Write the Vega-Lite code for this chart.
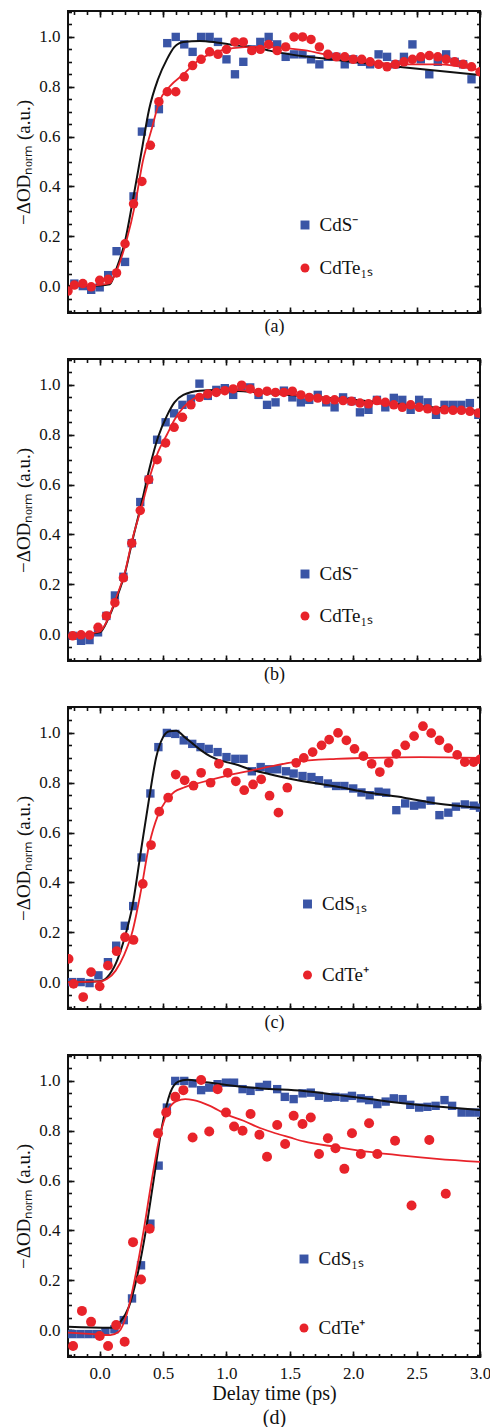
{
"$schema": "https://vega.github.io/schema/vega-lite/v6.json",
"autosize": {"type": "pad"},
"padding": {"left": 13, "top": 9, "right": 5, "bottom": 1},
"bounds": "flush",
"spacing": 46,
"resolve": {"scale": {"color": "independent", "shape": "independent"}, "legend": {"color": "independent", "shape": "independent"}},
"config": {
  "font": "Liberation Serif",
  "view": {"stroke": "#111111", "strokeWidth": 2},
  "axis": {"labelFont": "Liberation Serif", "titleFont": "Liberation Serif", "labelColor": "#111111", "titleColor": "#111111", "tickColor": "#111111", "titleFontWeight": "normal", "grid": false, "domain": false, "tickWidth": 1.6, "labelFlush": false, "labelOverlap": false},
  "legend": {"labelFont": "Liberation Serif", "labelFontSize": 19, "labelColor": "#111111", "symbolSize": 80, "symbolStrokeWidth": 0, "symbolOpacity": 1, "labelOffset": 5}
},
"datasets": {
  "a_pts": [
    {"series":"CdS⁻","t":-0.2,"v":0.01},{"series":"CdS⁻","t":-0.133,"v":0.0},{"series":"CdS⁻","t":-0.067,"v":-0.015},{"series":"CdS⁻","t":0.0,"v":-0.005},{"series":"CdS⁻","t":0.067,"v":0.044},{"series":"CdS⁻","t":0.133,"v":0.14},{"series":"CdS⁻","t":0.2,"v":0.097},{"series":"CdS⁻","t":0.267,"v":0.36},{"series":"CdS⁻","t":0.333,"v":0.62},{"series":"CdS⁻","t":0.4,"v":0.655},{"series":"CdS⁻","t":0.467,"v":0.71},{"series":"CdS⁻","t":0.533,"v":0.975},{"series":"CdS⁻","t":0.6,"v":1.0},{"series":"CdS⁻","t":0.667,"v":0.97},{"series":"CdS⁻","t":0.733,"v":0.94},{"series":"CdS⁻","t":0.8,"v":1.0},{"series":"CdS⁻","t":0.867,"v":1.0},{"series":"CdS⁻","t":0.933,"v":0.98},{"series":"CdS⁻","t":1.0,"v":0.91},{"series":"CdS⁻","t":1.067,"v":0.85},{"series":"CdS⁻","t":1.133,"v":0.9},{"series":"CdS⁻","t":1.2,"v":0.95},{"series":"CdS⁻","t":1.267,"v":0.98},{"series":"CdS⁻","t":1.333,"v":1.0},{"series":"CdS⁻","t":1.4,"v":0.97},{"series":"CdS⁻","t":1.467,"v":0.92},{"series":"CdS⁻","t":1.533,"v":0.93},{"series":"CdS⁻","t":1.6,"v":0.93},{"series":"CdS⁻","t":1.667,"v":0.91},{"series":"CdS⁻","t":1.733,"v":0.89},{"series":"CdS⁻","t":1.8,"v":0.92},{"series":"CdS⁻","t":1.867,"v":0.92},{"series":"CdS⁻","t":1.933,"v":0.89},{"series":"CdS⁻","t":2.0,"v":0.91},{"series":"CdS⁻","t":2.067,"v":0.9},{"series":"CdS⁻","t":2.133,"v":0.89},{"series":"CdS⁻","t":2.2,"v":0.93},{"series":"CdS⁻","t":2.267,"v":0.92},{"series":"CdS⁻","t":2.333,"v":0.89},{"series":"CdS⁻","t":2.4,"v":0.92},{"series":"CdS⁻","t":2.467,"v":0.97},{"series":"CdS⁻","t":2.533,"v":0.91},{"series":"CdS⁻","t":2.6,"v":0.85},{"series":"CdS⁻","t":2.667,"v":0.9},{"series":"CdS⁻","t":2.733,"v":0.93},{"series":"CdS⁻","t":2.8,"v":0.9},{"series":"CdS⁻","t":2.867,"v":0.89},{"series":"CdS⁻","t":2.933,"v":0.83},
    {"series":"CdTe₁ₛ","t":-0.25,"v":-0.02},{"series":"CdTe₁ₛ","t":-0.2,"v":0.004},{"series":"CdTe₁ₛ","t":-0.133,"v":0.01},{"series":"CdTe₁ₛ","t":-0.067,"v":-0.003},{"series":"CdTe₁ₛ","t":0.0,"v":0.023},{"series":"CdTe₁ₛ","t":0.067,"v":0.027},{"series":"CdTe₁ₛ","t":0.133,"v":0.053},{"series":"CdTe₁ₛ","t":0.2,"v":0.17},{"series":"CdTe₁ₛ","t":0.267,"v":0.33},{"series":"CdTe₁ₛ","t":0.333,"v":0.42},{"series":"CdTe₁ₛ","t":0.4,"v":0.565},{"series":"CdTe₁ₛ","t":0.467,"v":0.74},{"series":"CdTe₁ₛ","t":0.533,"v":0.78},{"series":"CdTe₁ₛ","t":0.6,"v":0.78},{"series":"CdTe₁ₛ","t":0.667,"v":0.84},{"series":"CdTe₁ₛ","t":0.733,"v":0.885},{"series":"CdTe₁ₛ","t":0.8,"v":0.91},{"series":"CdTe₁ₛ","t":0.867,"v":0.94},{"series":"CdTe₁ₛ","t":0.933,"v":0.93},{"series":"CdTe₁ₛ","t":1.0,"v":0.95},{"series":"CdTe₁ₛ","t":1.067,"v":0.98},{"series":"CdTe₁ₛ","t":1.133,"v":0.98},{"series":"CdTe₁ₛ","t":1.2,"v":0.945},{"series":"CdTe₁ₛ","t":1.267,"v":0.95},{"series":"CdTe₁ₛ","t":1.333,"v":0.97},{"series":"CdTe₁ₛ","t":1.4,"v":0.945},{"series":"CdTe₁ₛ","t":1.467,"v":0.96},{"series":"CdTe₁ₛ","t":1.533,"v":1.0},{"series":"CdTe₁ₛ","t":1.6,"v":1.0},{"series":"CdTe₁ₛ","t":1.667,"v":0.99},{"series":"CdTe₁ₛ","t":1.733,"v":0.96},{"series":"CdTe₁ₛ","t":1.8,"v":0.93},{"series":"CdTe₁ₛ","t":1.867,"v":0.92},{"series":"CdTe₁ₛ","t":1.933,"v":0.92},{"series":"CdTe₁ₛ","t":2.0,"v":0.91},{"series":"CdTe₁ₛ","t":2.067,"v":0.91},{"series":"CdTe₁ₛ","t":2.133,"v":0.9},{"series":"CdTe₁ₛ","t":2.2,"v":0.89},{"series":"CdTe₁ₛ","t":2.267,"v":0.88},{"series":"CdTe₁ₛ","t":2.333,"v":0.89},{"series":"CdTe₁ₛ","t":2.4,"v":0.9},{"series":"CdTe₁ₛ","t":2.467,"v":0.91},{"series":"CdTe₁ₛ","t":2.533,"v":0.92},{"series":"CdTe₁ₛ","t":2.6,"v":0.925},{"series":"CdTe₁ₛ","t":2.667,"v":0.92},{"series":"CdTe₁ₛ","t":2.733,"v":0.91},{"series":"CdTe₁ₛ","t":2.8,"v":0.9},{"series":"CdTe₁ₛ","t":2.867,"v":0.89},{"series":"CdTe₁ₛ","t":2.933,"v":0.88},{"series":"CdTe₁ₛ","t":3.0,"v":0.86}
  ],
  "a_fit": [
    {"fit":"S","t":-0.25,"v":0.0},{"fit":"S","t":0.0,"v":0.002},{"fit":"S","t":0.08,"v":0.007},{"fit":"S","t":0.13,"v":0.067},{"fit":"S","t":0.2,"v":0.18},{"fit":"S","t":0.26,"v":0.34},{"fit":"S","t":0.33,"v":0.54},{"fit":"S","t":0.39,"v":0.71},{"fit":"S","t":0.46,"v":0.83},{"fit":"S","t":0.53,"v":0.91},{"fit":"S","t":0.59,"v":0.96},{"fit":"S","t":0.66,"v":0.98},{"fit":"S","t":0.79,"v":0.984},{"fit":"S","t":0.92,"v":0.978},{"fit":"S","t":1.05,"v":0.968},{"fit":"S","t":1.26,"v":0.955},{"fit":"S","t":1.34,"v":0.945},{"fit":"S","t":1.87,"v":0.907},{"fit":"S","t":2.39,"v":0.878},{"fit":"S","t":3.0,"v":0.847},
    {"fit":"T","t":-0.25,"v":-0.03},{"fit":"T","t":-0.21,"v":-0.002},{"fit":"T","t":0.0,"v":0.005},{"fit":"T","t":0.08,"v":0.012},{"fit":"T","t":0.14,"v":0.07},{"fit":"T","t":0.21,"v":0.18},{"fit":"T","t":0.28,"v":0.33},{"fit":"T","t":0.34,"v":0.5},{"fit":"T","t":0.41,"v":0.63},{"fit":"T","t":0.47,"v":0.74},{"fit":"T","t":0.55,"v":0.8},{"fit":"T","t":0.66,"v":0.85},{"fit":"T","t":0.79,"v":0.91},{"fit":"T","t":0.92,"v":0.94},{"fit":"T","t":1.05,"v":0.955},{"fit":"T","t":1.26,"v":0.96},{"fit":"T","t":1.61,"v":0.947},{"fit":"T","t":1.87,"v":0.92},{"fit":"T","t":2.13,"v":0.9},{"fit":"T","t":2.39,"v":0.89},{"fit":"T","t":2.66,"v":0.89},{"fit":"T","t":3.0,"v":0.867}
  ],
  "b_pts": [
    {"series":"CdS⁻","t":-0.213,"v":-0.007},{"series":"CdS⁻","t":-0.147,"v":-0.027},{"series":"CdS⁻","t":-0.08,"v":-0.024},{"series":"CdS⁻","t":-0.013,"v":0.007},{"series":"CdS⁻","t":0.053,"v":0.073},{"series":"CdS⁻","t":0.12,"v":0.155},{"series":"CdS⁻","t":0.187,"v":0.23},{"series":"CdS⁻","t":0.253,"v":0.365},{"series":"CdS⁻","t":0.32,"v":0.53},{"series":"CdS⁻","t":0.387,"v":0.62},{"series":"CdS⁻","t":0.453,"v":0.78},{"series":"CdS⁻","t":0.52,"v":0.85},{"series":"CdS⁻","t":0.587,"v":0.886},{"series":"CdS⁻","t":0.653,"v":0.92},{"series":"CdS⁻","t":0.72,"v":0.945},{"series":"CdS⁻","t":0.787,"v":1.005},{"series":"CdS⁻","t":0.853,"v":0.956},{"series":"CdS⁻","t":0.92,"v":0.98},{"series":"CdS⁻","t":0.987,"v":0.987},{"series":"CdS⁻","t":1.053,"v":0.96},{"series":"CdS⁻","t":1.12,"v":0.99},{"series":"CdS⁻","t":1.187,"v":0.99},{"series":"CdS⁻","t":1.253,"v":0.96},{"series":"CdS⁻","t":1.32,"v":0.92},{"series":"CdS⁻","t":1.387,"v":0.93},{"series":"CdS⁻","t":1.453,"v":0.977},{"series":"CdS⁻","t":1.52,"v":0.95},{"series":"CdS⁻","t":1.587,"v":0.93},{"series":"CdS⁻","t":1.653,"v":0.94},{"series":"CdS⁻","t":1.72,"v":0.96},{"series":"CdS⁻","t":1.787,"v":0.93},{"series":"CdS⁻","t":1.853,"v":0.91},{"series":"CdS⁻","t":1.92,"v":0.95},{"series":"CdS⁻","t":1.987,"v":0.935},{"series":"CdS⁻","t":2.053,"v":0.89},{"series":"CdS⁻","t":2.12,"v":0.9},{"series":"CdS⁻","t":2.187,"v":0.94},{"series":"CdS⁻","t":2.253,"v":0.91},{"series":"CdS⁻","t":2.32,"v":0.948},{"series":"CdS⁻","t":2.387,"v":0.94},{"series":"CdS⁻","t":2.453,"v":0.9},{"series":"CdS⁻","t":2.52,"v":0.94},{"series":"CdS⁻","t":2.587,"v":0.93},{"series":"CdS⁻","t":2.653,"v":0.88},{"series":"CdS⁻","t":2.72,"v":0.92},{"series":"CdS⁻","t":2.787,"v":0.92},{"series":"CdS⁻","t":2.853,"v":0.92},{"series":"CdS⁻","t":2.92,"v":0.927},{"series":"CdS⁻","t":2.987,"v":0.88},
    {"series":"CdTe₁ₛ","t":-0.213,"v":-0.007},{"series":"CdTe₁ₛ","t":-0.147,"v":-0.003},{"series":"CdTe₁ₛ","t":-0.08,"v":-0.004},{"series":"CdTe₁ₛ","t":-0.013,"v":0.027},{"series":"CdTe₁ₛ","t":0.053,"v":0.073},{"series":"CdTe₁ₛ","t":0.12,"v":0.126},{"series":"CdTe₁ₛ","t":0.187,"v":0.226},{"series":"CdTe₁ₛ","t":0.253,"v":0.365},{"series":"CdTe₁ₛ","t":0.32,"v":0.496},{"series":"CdTe₁ₛ","t":0.387,"v":0.62},{"series":"CdTe₁ₛ","t":0.453,"v":0.7},{"series":"CdTe₁ₛ","t":0.52,"v":0.767},{"series":"CdTe₁ₛ","t":0.587,"v":0.83},{"series":"CdTe₁ₛ","t":0.653,"v":0.87},{"series":"CdTe₁ₛ","t":0.72,"v":0.92},{"series":"CdTe₁ₛ","t":0.787,"v":0.95},{"series":"CdTe₁ₛ","t":0.853,"v":0.964},{"series":"CdTe₁ₛ","t":0.92,"v":0.97},{"series":"CdTe₁ₛ","t":0.987,"v":0.977},{"series":"CdTe₁ₛ","t":1.053,"v":0.984},{"series":"CdTe₁ₛ","t":1.12,"v":0.999},{"series":"CdTe₁ₛ","t":1.187,"v":0.984},{"series":"CdTe₁ₛ","t":1.253,"v":0.97},{"series":"CdTe₁ₛ","t":1.32,"v":0.975},{"series":"CdTe₁ₛ","t":1.387,"v":0.97},{"series":"CdTe₁ₛ","t":1.453,"v":0.97},{"series":"CdTe₁ₛ","t":1.52,"v":0.975},{"series":"CdTe₁ₛ","t":1.587,"v":0.96},{"series":"CdTe₁ₛ","t":1.653,"v":0.95},{"series":"CdTe₁ₛ","t":1.72,"v":0.947},{"series":"CdTe₁ₛ","t":1.787,"v":0.94},{"series":"CdTe₁ₛ","t":1.853,"v":0.94},{"series":"CdTe₁ₛ","t":1.92,"v":0.937},{"series":"CdTe₁ₛ","t":1.987,"v":0.934},{"series":"CdTe₁ₛ","t":2.053,"v":0.927},{"series":"CdTe₁ₛ","t":2.12,"v":0.924},{"series":"CdTe₁ₛ","t":2.187,"v":0.937},{"series":"CdTe₁ₛ","t":2.253,"v":0.93},{"series":"CdTe₁ₛ","t":2.32,"v":0.92},{"series":"CdTe₁ₛ","t":2.387,"v":0.91},{"series":"CdTe₁ₛ","t":2.453,"v":0.92},{"series":"CdTe₁ₛ","t":2.52,"v":0.91},{"series":"CdTe₁ₛ","t":2.587,"v":0.904},{"series":"CdTe₁ₛ","t":2.653,"v":0.898},{"series":"CdTe₁ₛ","t":2.72,"v":0.9},{"series":"CdTe₁ₛ","t":2.787,"v":0.898},{"series":"CdTe₁ₛ","t":2.853,"v":0.898},{"series":"CdTe₁ₛ","t":2.92,"v":0.894},{"series":"CdTe₁ₛ","t":2.987,"v":0.887}
  ],
  "b_fit": [
    {"fit":"S","t":-0.25,"v":-0.005},{"fit":"S","t":0.0,"v":0.007},{"fit":"S","t":0.066,"v":0.06},{"fit":"S","t":0.13,"v":0.14},{"fit":"S","t":0.2,"v":0.246},{"fit":"S","t":0.26,"v":0.38},{"fit":"S","t":0.33,"v":0.525},{"fit":"S","t":0.395,"v":0.67},{"fit":"S","t":0.46,"v":0.79},{"fit":"S","t":0.53,"v":0.876},{"fit":"S","t":0.59,"v":0.93},{"fit":"S","t":0.66,"v":0.96},{"fit":"S","t":0.79,"v":0.977},{"fit":"S","t":0.92,"v":0.98},{"fit":"S","t":1.05,"v":0.977},{"fit":"S","t":1.26,"v":0.97},{"fit":"S","t":1.5,"v":0.96},{"fit":"S","t":2.0,"v":0.94},{"fit":"S","t":2.5,"v":0.915},{"fit":"S","t":3.0,"v":0.895},
    {"fit":"T","t":-0.25,"v":-0.005},{"fit":"T","t":0.0,"v":0.01},{"fit":"T","t":0.066,"v":0.062},{"fit":"T","t":0.13,"v":0.146},{"fit":"T","t":0.2,"v":0.25},{"fit":"T","t":0.26,"v":0.385},{"fit":"T","t":0.33,"v":0.51},{"fit":"T","t":0.395,"v":0.63},{"fit":"T","t":0.46,"v":0.73},{"fit":"T","t":0.53,"v":0.8},{"fit":"T","t":0.59,"v":0.86},{"fit":"T","t":0.66,"v":0.91},{"fit":"T","t":0.74,"v":0.944},{"fit":"T","t":0.87,"v":0.967},{"fit":"T","t":1.05,"v":0.98},{"fit":"T","t":1.26,"v":0.972},{"fit":"T","t":1.5,"v":0.962},{"fit":"T","t":2.0,"v":0.935},{"fit":"T","t":2.5,"v":0.91},{"fit":"T","t":3.0,"v":0.89}
  ],
  "c_pts": [
    {"series":"CdS₁ₛ","t":-0.22,"v":0.0},{"series":"CdS₁ₛ","t":-0.15,"v":0.0},{"series":"CdS₁ₛ","t":-0.08,"v":-0.004},{"series":"CdS₁ₛ","t":-0.01,"v":0.027},{"series":"CdS₁ₛ","t":0.065,"v":0.08},{"series":"CdS₁ₛ","t":0.13,"v":0.146},{"series":"CdS₁ₛ","t":0.198,"v":0.226},{"series":"CdS₁ₛ","t":0.264,"v":0.305},{"series":"CdS₁ₛ","t":0.33,"v":0.5},{"series":"CdS₁ₛ","t":0.4,"v":0.757},{"series":"CdS₁ₛ","t":0.463,"v":0.943},{"series":"CdS₁ₛ","t":0.53,"v":1.0},{"series":"CdS₁ₛ","t":0.596,"v":0.996},{"series":"CdS₁ₛ","t":0.663,"v":0.97},{"series":"CdS₁ₛ","t":0.73,"v":0.956},{"series":"CdS₁ₛ","t":0.795,"v":0.943},{"series":"CdS₁ₛ","t":0.86,"v":0.936},{"series":"CdS₁ₛ","t":0.93,"v":0.923},{"series":"CdS₁ₛ","t":1.0,"v":0.903},{"series":"CdS₁ₛ","t":1.07,"v":0.896},{"series":"CdS₁ₛ","t":1.135,"v":0.896},{"series":"CdS₁ₛ","t":1.2,"v":0.846},{"series":"CdS₁ₛ","t":1.27,"v":0.863},{"series":"CdS₁ₛ","t":1.335,"v":0.854},{"series":"CdS₁ₛ","t":1.4,"v":0.854},{"series":"CdS₁ₛ","t":1.47,"v":0.846},{"series":"CdS₁ₛ","t":1.53,"v":0.837},{"series":"CdS₁ₛ","t":1.6,"v":0.827},{"series":"CdS₁ₛ","t":1.67,"v":0.823},{"series":"CdS₁ₛ","t":1.73,"v":0.81},{"series":"CdS₁ₛ","t":1.8,"v":0.797},{"series":"CdS₁ₛ","t":1.865,"v":0.787},{"series":"CdS₁ₛ","t":1.93,"v":0.787},{"series":"CdS₁ₛ","t":2.0,"v":0.777},{"series":"CdS₁ₛ","t":2.065,"v":0.761},{"series":"CdS₁ₛ","t":2.13,"v":0.75},{"series":"CdS₁ₛ","t":2.2,"v":0.764},{"series":"CdS₁ₛ","t":2.26,"v":0.76},{"series":"CdS₁ₛ","t":2.34,"v":0.69},{"series":"CdS₁ₛ","t":2.41,"v":0.717},{"series":"CdS₁ₛ","t":2.48,"v":0.708},{"series":"CdS₁ₛ","t":2.54,"v":0.713},{"series":"CdS₁ₛ","t":2.61,"v":0.728},{"series":"CdS₁ₛ","t":2.68,"v":0.67},{"series":"CdS₁ₛ","t":2.75,"v":0.68},{"series":"CdS₁ₛ","t":2.81,"v":0.704},{"series":"CdS₁ₛ","t":2.88,"v":0.713},{"series":"CdS₁ₛ","t":2.95,"v":0.708},{"series":"CdS₁ₛ","t":3.0,"v":0.7},
    {"series":"CdTe⁺","t":-0.245,"v":0.093},{"series":"CdTe⁺","t":-0.206,"v":-0.007},{"series":"CdTe⁺","t":-0.13,"v":-0.06},{"series":"CdTe⁺","t":-0.068,"v":0.04},{"series":"CdTe⁺","t":0.0,"v":-0.017},{"series":"CdTe⁺","t":0.065,"v":0.066},{"series":"CdTe⁺","t":0.134,"v":0.124},{"series":"CdTe⁺","t":0.2,"v":0.18},{"series":"CdTe⁺","t":0.267,"v":0.169},{"series":"CdTe⁺","t":0.34,"v":0.394},{"series":"CdTe⁺","t":0.405,"v":0.55},{"series":"CdTe⁺","t":0.47,"v":0.684},{"series":"CdTe⁺","t":0.54,"v":0.74},{"series":"CdTe⁺","t":0.6,"v":0.833},{"series":"CdTe⁺","t":0.67,"v":0.81},{"series":"CdTe⁺","t":0.74,"v":0.788},{"series":"CdTe⁺","t":0.8,"v":0.84},{"series":"CdTe⁺","t":0.875,"v":0.8},{"series":"CdTe⁺","t":0.94,"v":0.876},{"series":"CdTe⁺","t":1.01,"v":0.84},{"series":"CdTe⁺","t":1.074,"v":0.806},{"series":"CdTe⁺","t":1.14,"v":0.77},{"series":"CdTe⁺","t":1.21,"v":0.793},{"series":"CdTe⁺","t":1.274,"v":0.814},{"series":"CdTe⁺","t":1.34,"v":0.748},{"series":"CdTe⁺","t":1.41,"v":0.68},{"series":"CdTe⁺","t":1.48,"v":0.78},{"series":"CdTe⁺","t":1.55,"v":0.88},{"series":"CdTe⁺","t":1.61,"v":0.9},{"series":"CdTe⁺","t":1.68,"v":0.923},{"series":"CdTe⁺","t":1.75,"v":0.95},{"series":"CdTe⁺","t":1.81,"v":0.973},{"series":"CdTe⁺","t":1.88,"v":1.0},{"series":"CdTe⁺","t":1.946,"v":0.97},{"series":"CdTe⁺","t":2.01,"v":0.936},{"series":"CdTe⁺","t":2.08,"v":0.907},{"series":"CdTe⁺","t":2.145,"v":0.876},{"series":"CdTe⁺","t":2.21,"v":0.843},{"series":"CdTe⁺","t":2.28,"v":0.88},{"series":"CdTe⁺","t":2.34,"v":0.916},{"series":"CdTe⁺","t":2.41,"v":0.95},{"series":"CdTe⁺","t":2.48,"v":0.987},{"series":"CdTe⁺","t":2.55,"v":1.027},{"series":"CdTe⁺","t":2.615,"v":0.999},{"series":"CdTe⁺","t":2.68,"v":0.97},{"series":"CdTe⁺","t":2.75,"v":0.939},{"series":"CdTe⁺","t":2.82,"v":0.912},{"series":"CdTe⁺","t":2.88,"v":0.883},{"series":"CdTe⁺","t":2.95,"v":0.883},{"series":"CdTe⁺","t":3.0,"v":0.894}
  ],
  "c_fit": [
    {"fit":"S","t":-0.25,"v":0.0},{"fit":"S","t":0.0,"v":0.003},{"fit":"S","t":0.06,"v":0.02},{"fit":"S","t":0.126,"v":0.073},{"fit":"S","t":0.19,"v":0.166},{"fit":"S","t":0.26,"v":0.31},{"fit":"S","t":0.325,"v":0.525},{"fit":"S","t":0.39,"v":0.737},{"fit":"S","t":0.445,"v":0.9},{"fit":"S","t":0.5,"v":0.983},{"fit":"S","t":0.55,"v":1.007},{"fit":"S","t":0.604,"v":1.009},{"fit":"S","t":0.67,"v":0.983},{"fit":"S","t":0.736,"v":0.956},{"fit":"S","t":0.8,"v":0.93},{"fit":"S","t":0.87,"v":0.907},{"fit":"S","t":0.936,"v":0.892},{"fit":"S","t":1.07,"v":0.874},{"fit":"S","t":1.2,"v":0.852},{"fit":"S","t":1.335,"v":0.835},{"fit":"S","t":1.5,"v":0.816},{"fit":"S","t":1.865,"v":0.785},{"fit":"S","t":2.13,"v":0.76},{"fit":"S","t":2.4,"v":0.74},{"fit":"S","t":2.66,"v":0.717},{"fit":"S","t":3.0,"v":0.7},
    {"fit":"T","t":-0.25,"v":0.0},{"fit":"T","t":0.0,"v":0.003},{"fit":"T","t":0.06,"v":0.013},{"fit":"T","t":0.126,"v":0.046},{"fit":"T","t":0.19,"v":0.106},{"fit":"T","t":0.26,"v":0.206},{"fit":"T","t":0.325,"v":0.365},{"fit":"T","t":0.39,"v":0.55},{"fit":"T","t":0.46,"v":0.67},{"fit":"T","t":0.525,"v":0.73},{"fit":"T","t":0.59,"v":0.764},{"fit":"T","t":0.66,"v":0.78},{"fit":"T","t":0.79,"v":0.8},{"fit":"T","t":0.99,"v":0.827},{"fit":"T","t":1.2,"v":0.85},{"fit":"T","t":1.36,"v":0.867},{"fit":"T","t":1.53,"v":0.883},{"fit":"T","t":1.865,"v":0.896},{"fit":"T","t":2.13,"v":0.9},{"fit":"T","t":2.53,"v":0.903},{"fit":"T","t":3.0,"v":0.9}
  ],
  "d_pts": [
    {"series":"CdS₁ₛ","t":-0.218,"v":-0.016},{"series":"CdS₁ₛ","t":-0.152,"v":-0.016},{"series":"CdS₁ₛ","t":-0.087,"v":-0.016},{"series":"CdS₁ₛ","t":-0.021,"v":-0.016},{"series":"CdS₁ₛ","t":0.045,"v":-0.007},{"series":"CdS₁ₛ","t":0.116,"v":0.003},{"series":"CdS₁ₛ","t":0.19,"v":0.04},{"series":"CdS₁ₛ","t":0.255,"v":0.127},{"series":"CdS₁ₛ","t":0.326,"v":0.26},{"series":"CdS₁ₛ","t":0.4,"v":0.427},{"series":"CdS₁ₛ","t":0.465,"v":0.66},{"series":"CdS₁ₛ","t":0.53,"v":0.893},{"series":"CdS₁ₛ","t":0.596,"v":1.0},{"series":"CdS₁ₛ","t":0.667,"v":1.0},{"series":"CdS₁ₛ","t":0.733,"v":0.99},{"series":"CdS₁ₛ","t":0.8,"v":0.963},{"series":"CdS₁ₛ","t":0.864,"v":0.973},{"series":"CdS₁ₛ","t":0.93,"v":0.987},{"series":"CdS₁ₛ","t":0.996,"v":0.993},{"series":"CdS₁ₛ","t":1.06,"v":0.993},{"series":"CdS₁ₛ","t":1.127,"v":0.967},{"series":"CdS₁ₛ","t":1.19,"v":0.96},{"series":"CdS₁ₛ","t":1.26,"v":0.976},{"series":"CdS₁ₛ","t":1.32,"v":0.984},{"series":"CdS₁ₛ","t":1.4,"v":0.967},{"series":"CdS₁ₛ","t":1.46,"v":0.936},{"series":"CdS₁ₛ","t":1.53,"v":0.927},{"series":"CdS₁ₛ","t":1.6,"v":0.95},{"series":"CdS₁ₛ","t":1.665,"v":0.953},{"series":"CdS₁ₛ","t":1.73,"v":0.94},{"series":"CdS₁ₛ","t":1.8,"v":0.933},{"series":"CdS₁ₛ","t":1.86,"v":0.936},{"series":"CdS₁ₛ","t":1.93,"v":0.933},{"series":"CdS₁ₛ","t":1.99,"v":0.94},{"series":"CdS₁ₛ","t":2.06,"v":0.93},{"series":"CdS₁ₛ","t":2.125,"v":0.923},{"series":"CdS₁ₛ","t":2.19,"v":0.907},{"series":"CdS₁ₛ","t":2.256,"v":0.917},{"series":"CdS₁ₛ","t":2.32,"v":0.93},{"series":"CdS₁ₛ","t":2.39,"v":0.927},{"series":"CdS₁ₛ","t":2.45,"v":0.904},{"series":"CdS₁ₛ","t":2.52,"v":0.893},{"series":"CdS₁ₛ","t":2.585,"v":0.896},{"series":"CdS₁ₛ","t":2.65,"v":0.9},{"series":"CdS₁ₛ","t":2.72,"v":0.923},{"series":"CdS₁ₛ","t":2.78,"v":0.9},{"series":"CdS₁ₛ","t":2.855,"v":0.873},{"series":"CdS₁ₛ","t":2.92,"v":0.873},{"series":"CdS₁ₛ","t":2.986,"v":0.873},
    {"series":"CdTe⁺","t":-0.21,"v":-0.064},{"series":"CdTe⁺","t":-0.14,"v":0.077},{"series":"CdTe⁺","t":-0.068,"v":0.033},{"series":"CdTe⁺","t":0.0,"v":-0.024},{"series":"CdTe⁺","t":0.066,"v":-0.064},{"series":"CdTe⁺","t":0.13,"v":0.02},{"series":"CdTe⁺","t":0.197,"v":-0.047},{"series":"CdTe⁺","t":0.263,"v":0.353},{"series":"CdTe⁺","t":0.326,"v":0.203},{"series":"CdTe⁺","t":0.394,"v":0.407},{"series":"CdTe⁺","t":0.46,"v":0.79},{"series":"CdTe⁺","t":0.525,"v":0.873},{"series":"CdTe⁺","t":0.596,"v":0.936},{"series":"CdTe⁺","t":0.66,"v":0.963},{"series":"CdTe⁺","t":0.733,"v":0.773},{"series":"CdTe⁺","t":0.8,"v":1.004},{"series":"CdTe⁺","t":0.864,"v":0.797},{"series":"CdTe⁺","t":0.93,"v":0.967},{"series":"CdTe⁺","t":0.996,"v":0.873},{"series":"CdTe⁺","t":1.06,"v":0.817},{"series":"CdTe⁺","t":1.127,"v":0.8},{"series":"CdTe⁺","t":1.19,"v":0.867},{"series":"CdTe⁺","t":1.26,"v":0.784},{"series":"CdTe⁺","t":1.32,"v":0.696},{"series":"CdTe⁺","t":1.4,"v":0.823},{"series":"CdTe⁺","t":1.463,"v":0.747},{"series":"CdTe⁺","t":1.53,"v":0.86},{"series":"CdTe⁺","t":1.6,"v":0.827},{"series":"CdTe⁺","t":1.665,"v":0.853},{"series":"CdTe⁺","t":1.73,"v":0.707},{"series":"CdTe⁺","t":1.8,"v":0.77},{"series":"CdTe⁺","t":1.86,"v":0.73},{"series":"CdTe⁺","t":1.93,"v":0.647},{"series":"CdTe⁺","t":1.99,"v":0.79},{"series":"CdTe⁺","t":2.06,"v":0.707},{"series":"CdTe⁺","t":2.125,"v":0.83},{"series":"CdTe⁺","t":2.19,"v":0.707},{"series":"CdTe⁺","t":2.33,"v":0.76},{"series":"CdTe⁺","t":2.46,"v":0.5},{"series":"CdTe⁺","t":2.6,"v":0.763},{"series":"CdTe⁺","t":2.73,"v":0.547}
  ],
  "d_fit": [
    {"fit":"S","t":-0.25,"v":0.013},{"fit":"S","t":0.084,"v":0.009},{"fit":"S","t":0.163,"v":0.033},{"fit":"S","t":0.23,"v":0.093},{"fit":"S","t":0.294,"v":0.213},{"fit":"S","t":0.36,"v":0.387},{"fit":"S","t":0.425,"v":0.6},{"fit":"S","t":0.49,"v":0.813},{"fit":"S","t":0.557,"v":0.953},{"fit":"S","t":0.62,"v":0.997},{"fit":"S","t":0.69,"v":1.005},{"fit":"S","t":0.82,"v":0.996},{"fit":"S","t":1.0,"v":0.984},{"fit":"S","t":1.27,"v":0.97},{"fit":"S","t":1.61,"v":0.96},{"fit":"S","t":1.87,"v":0.944},{"fit":"S","t":2.13,"v":0.927},{"fit":"S","t":2.39,"v":0.91},{"fit":"S","t":2.66,"v":0.897},{"fit":"S","t":3.0,"v":0.883},
    {"fit":"T","t":-0.25,"v":-0.01},{"fit":"T","t":-0.047,"v":-0.016},{"fit":"T","t":0.084,"v":-0.02},{"fit":"T","t":0.15,"v":-0.007},{"fit":"T","t":0.215,"v":0.067},{"fit":"T","t":0.28,"v":0.213},{"fit":"T","t":0.347,"v":0.4},{"fit":"T","t":0.41,"v":0.6},{"fit":"T","t":0.478,"v":0.787},{"fit":"T","t":0.544,"v":0.887},{"fit":"T","t":0.61,"v":0.92},{"fit":"T","t":0.675,"v":0.927},{"fit":"T","t":0.74,"v":0.923},{"fit":"T","t":0.87,"v":0.9},{"fit":"T","t":1.0,"v":0.865},{"fit":"T","t":1.135,"v":0.84},{"fit":"T","t":1.27,"v":0.81},{"fit":"T","t":1.385,"v":0.79},{"fit":"T","t":1.5,"v":0.773},{"fit":"T","t":1.61,"v":0.757},{"fit":"T","t":1.87,"v":0.735},{"fit":"T","t":2.13,"v":0.715},{"fit":"T","t":2.39,"v":0.7},{"fit":"T","t":2.66,"v":0.687},{"fit":"T","t":3.0,"v":0.675}
  ]
},
"vconcat": [
 {"width": 412, "height": 302, "resolve": {"axis": {"x": "independent", "y": "independent"}},
  "layer": [
   {"data": {"name": "a_pts"}, "transform": [{"filter": "datum.series === 'CdS⁻'"}],
    "mark": {"type": "point", "filled": true, "size": 70, "opacity": 1, "clip": true},
    "encoding": {
      "x": {"field": "t", "type": "quantitative", "scale": {"domain": [-0.25, 3.0], "nice": false, "zero": false}, "axis": {"orient": "bottom", "values": [0,0.5,1,1.5,2,2.5,3], "tickSize": -6, "labels": false, "title": "(a)", "titleFontSize": 18, "titlePadding": 4}},
      "y": {"field": "v", "type": "quantitative", "scale": {"domain": [-0.108, 1.104], "nice": false, "zero": false}, "axis": {"orient": "left", "values": [0,0.2,0.4,0.6,0.8,1.0], "format": ".1f", "tickSize": -6, "labelFontSize": 17, "labelPadding": 14, "title": "−ΔODₙₒᵣₘ (a.u.)", "titleFontSize": 19, "titlePadding": 5}},
      "color": {"field": "series", "type": "nominal", "scale": {"domain": ["CdS⁻", "CdTe₁ₛ"], "range": ["#3A55A6", "#E8232A"]}, "legend": {"orient": "none", "legendX": 227.5, "legendY": 204.5, "title": null, "rowPadding": 23}},
      "shape": {"field": "series", "type": "nominal", "scale": {"domain": ["CdS⁻", "CdTe₁ₛ"], "range": ["square", "circle"]}, "legend": {"orient": "none", "legendX": 227.5, "legendY": 204.5, "title": null, "rowPadding": 23}}
    }},
   {"data": {"name": "a_fit"}, "transform": [{"filter": "datum.fit === 'S'"}],
    "mark": {"type": "line", "color": "#111111", "strokeWidth": 2, "interpolate": "monotone", "clip": true},
    "encoding": {
      "x": {"field": "t", "type": "quantitative", "scale": {"domain": [-0.25, 3.0], "nice": false, "zero": false}, "axis": {"orient": "bottom", "values": [-0.2,-0.1,0,0.1,0.2,0.3,0.4,0.5,0.6,0.7,0.8,0.9,1,1.1,1.2,1.3,1.4,1.5,1.6,1.7,1.8,1.9,2,2.1,2.2,2.3,2.4,2.5,2.6,2.7,2.8,2.9,3], "tickSize": -3.5, "labels": false, "title": null}},
      "y": {"field": "v", "type": "quantitative", "scale": {"domain": [-0.108, 1.104], "nice": false, "zero": false}, "axis": {"orient": "left", "values": [-0.1,-0.05,0,0.05,0.1,0.15,0.2,0.25,0.3,0.35,0.4,0.45,0.5,0.55,0.6,0.65,0.7,0.75,0.8,0.85,0.9,0.95,1,1.05,1.1], "tickSize": -3.5, "labels": false, "title": null}}
    }},
   {"data": {"name": "a_pts"}, "transform": [{"filter": "datum.series === 'CdTe₁ₛ'"}],
    "mark": {"type": "point", "filled": true, "size": 90, "opacity": 1, "clip": true},
    "encoding": {
      "x": {"field": "t", "type": "quantitative", "scale": {"domain": [-0.25, 3.0], "nice": false, "zero": false}, "axis": {"orient": "top", "values": [0,0.5,1,1.5,2,2.5,3], "tickSize": -6, "labels": false, "title": null}},
      "y": {"field": "v", "type": "quantitative", "scale": {"domain": [-0.108, 1.104], "nice": false, "zero": false}, "axis": {"orient": "right", "values": [0,0.2,0.4,0.6,0.8,1.0], "tickSize": -6, "labels": false, "title": null}},
      "color": {"field": "series", "type": "nominal", "scale": {"domain": ["CdS⁻", "CdTe₁ₛ"], "range": ["#3A55A6", "#E8232A"]}, "legend": {"orient": "none", "legendX": 227.5, "legendY": 204.5, "title": null, "rowPadding": 23}},
      "shape": {"field": "series", "type": "nominal", "scale": {"domain": ["CdS⁻", "CdTe₁ₛ"], "range": ["square", "circle"]}, "legend": {"orient": "none", "legendX": 227.5, "legendY": 204.5, "title": null, "rowPadding": 23}}
    }},
   {"data": {"name": "a_fit"}, "transform": [{"filter": "datum.fit === 'T'"}],
    "mark": {"type": "line", "color": "#E8232A", "strokeWidth": 1.8, "interpolate": "monotone", "clip": true},
    "encoding": {
      "x": {"field": "t", "type": "quantitative", "scale": {"domain": [-0.25, 3.0], "nice": false, "zero": false}, "axis": {"orient": "top", "values": [-0.2,-0.1,0,0.1,0.2,0.3,0.4,0.5,0.6,0.7,0.8,0.9,1,1.1,1.2,1.3,1.4,1.5,1.6,1.7,1.8,1.9,2,2.1,2.2,2.3,2.4,2.5,2.6,2.7,2.8,2.9,3], "tickSize": -3.5, "labels": false, "title": null}},
      "y": {"field": "v", "type": "quantitative", "scale": {"domain": [-0.108, 1.104], "nice": false, "zero": false}, "axis": {"orient": "right", "values": [-0.1,-0.05,0,0.05,0.1,0.15,0.2,0.25,0.3,0.35,0.4,0.45,0.5,0.55,0.6,0.65,0.7,0.75,0.8,0.85,0.9,0.95,1,1.05,1.1], "tickSize": -3.5, "labels": false, "title": null}}
    }}
  ]},
 {"width": 412, "height": 302, "resolve": {"axis": {"x": "independent", "y": "independent"}},
  "layer": [
   {"data": {"name": "b_pts"}, "transform": [{"filter": "datum.series === 'CdS⁻'"}],
    "mark": {"type": "point", "filled": true, "size": 70, "opacity": 1, "clip": true},
    "encoding": {
      "x": {"field": "t", "type": "quantitative", "scale": {"domain": [-0.25, 3.0], "nice": false, "zero": false}, "axis": {"orient": "bottom", "values": [0,0.5,1,1.5,2,2.5,3], "tickSize": -6, "labels": false, "title": "(b)", "titleFontSize": 18, "titlePadding": 4}},
      "y": {"field": "v", "type": "quantitative", "scale": {"domain": [-0.108, 1.104], "nice": false, "zero": false}, "axis": {"orient": "left", "values": [0,0.2,0.4,0.6,0.8,1.0], "format": ".1f", "tickSize": -6, "labelFontSize": 17, "labelPadding": 14, "title": "−ΔODₙₒᵣₘ (a.u.)", "titleFontSize": 19, "titlePadding": 5}},
      "color": {"field": "series", "type": "nominal", "scale": {"domain": ["CdS⁻", "CdTe₁ₛ"], "range": ["#3A55A6", "#E8232A"]}, "legend": {"orient": "none", "legendX": 227.5, "legendY": 205.5, "title": null, "rowPadding": 22}},
      "shape": {"field": "series", "type": "nominal", "scale": {"domain": ["CdS⁻", "CdTe₁ₛ"], "range": ["square", "circle"]}, "legend": {"orient": "none", "legendX": 227.5, "legendY": 205.5, "title": null, "rowPadding": 22}}
    }},
   {"data": {"name": "b_fit"}, "transform": [{"filter": "datum.fit === 'S'"}],
    "mark": {"type": "line", "color": "#111111", "strokeWidth": 2, "interpolate": "monotone", "clip": true},
    "encoding": {
      "x": {"field": "t", "type": "quantitative", "scale": {"domain": [-0.25, 3.0], "nice": false, "zero": false}, "axis": {"orient": "bottom", "values": [-0.2,-0.1,0,0.1,0.2,0.3,0.4,0.5,0.6,0.7,0.8,0.9,1,1.1,1.2,1.3,1.4,1.5,1.6,1.7,1.8,1.9,2,2.1,2.2,2.3,2.4,2.5,2.6,2.7,2.8,2.9,3], "tickSize": -3.5, "labels": false, "title": null}},
      "y": {"field": "v", "type": "quantitative", "scale": {"domain": [-0.108, 1.104], "nice": false, "zero": false}, "axis": {"orient": "left", "values": [-0.1,-0.05,0,0.05,0.1,0.15,0.2,0.25,0.3,0.35,0.4,0.45,0.5,0.55,0.6,0.65,0.7,0.75,0.8,0.85,0.9,0.95,1,1.05,1.1], "tickSize": -3.5, "labels": false, "title": null}}
    }},
   {"data": {"name": "b_pts"}, "transform": [{"filter": "datum.series === 'CdTe₁ₛ'"}],
    "mark": {"type": "point", "filled": true, "size": 90, "opacity": 1, "clip": true},
    "encoding": {
      "x": {"field": "t", "type": "quantitative", "scale": {"domain": [-0.25, 3.0], "nice": false, "zero": false}, "axis": {"orient": "top", "values": [0,0.5,1,1.5,2,2.5,3], "tickSize": -6, "labels": false, "title": null}},
      "y": {"field": "v", "type": "quantitative", "scale": {"domain": [-0.108, 1.104], "nice": false, "zero": false}, "axis": {"orient": "right", "values": [0,0.2,0.4,0.6,0.8,1.0], "tickSize": -6, "labels": false, "title": null}},
      "color": {"field": "series", "type": "nominal", "scale": {"domain": ["CdS⁻", "CdTe₁ₛ"], "range": ["#3A55A6", "#E8232A"]}, "legend": {"orient": "none", "legendX": 227.5, "legendY": 205.5, "title": null, "rowPadding": 22}},
      "shape": {"field": "series", "type": "nominal", "scale": {"domain": ["CdS⁻", "CdTe₁ₛ"], "range": ["square", "circle"]}, "legend": {"orient": "none", "legendX": 227.5, "legendY": 205.5, "title": null, "rowPadding": 22}}
    }},
   {"data": {"name": "b_fit"}, "transform": [{"filter": "datum.fit === 'T'"}],
    "mark": {"type": "line", "color": "#E8232A", "strokeWidth": 1.8, "interpolate": "monotone", "clip": true},
    "encoding": {
      "x": {"field": "t", "type": "quantitative", "scale": {"domain": [-0.25, 3.0], "nice": false, "zero": false}, "axis": {"orient": "top", "values": [-0.2,-0.1,0,0.1,0.2,0.3,0.4,0.5,0.6,0.7,0.8,0.9,1,1.1,1.2,1.3,1.4,1.5,1.6,1.7,1.8,1.9,2,2.1,2.2,2.3,2.4,2.5,2.6,2.7,2.8,2.9,3], "tickSize": -3.5, "labels": false, "title": null}},
      "y": {"field": "v", "type": "quantitative", "scale": {"domain": [-0.108, 1.104], "nice": false, "zero": false}, "axis": {"orient": "right", "values": [-0.1,-0.05,0,0.05,0.1,0.15,0.2,0.25,0.3,0.35,0.4,0.45,0.5,0.55,0.6,0.65,0.7,0.75,0.8,0.85,0.9,0.95,1,1.05,1.1], "tickSize": -3.5, "labels": false, "title": null}}
    }}
  ]},
 {"width": 412, "height": 302, "resolve": {"axis": {"x": "independent", "y": "independent"}},
  "layer": [
   {"data": {"name": "c_pts"}, "transform": [{"filter": "datum.series === 'CdS₁ₛ'"}],
    "mark": {"type": "point", "filled": true, "size": 70, "opacity": 1, "clip": true},
    "encoding": {
      "x": {"field": "t", "type": "quantitative", "scale": {"domain": [-0.25, 3.0], "nice": false, "zero": false}, "axis": {"orient": "bottom", "values": [0,0.5,1,1.5,2,2.5,3], "tickSize": -6, "labels": false, "title": "(c)", "titleFontSize": 18, "titlePadding": 4}},
      "y": {"field": "v", "type": "quantitative", "scale": {"domain": [-0.108, 1.104], "nice": false, "zero": false}, "axis": {"orient": "left", "values": [0,0.2,0.4,0.6,0.8,1.0], "format": ".1f", "tickSize": -6, "labelFontSize": 17, "labelPadding": 14, "title": "−ΔODₙₒᵣₘ (a.u.)", "titleFontSize": 19, "titlePadding": 5}},
      "color": {"field": "series", "type": "nominal", "scale": {"domain": ["CdS₁ₛ", "CdTe⁺"], "range": ["#3A55A6", "#E8232A"]}, "legend": {"orient": "none", "legendX": 230, "legendY": 187.5, "title": null, "rowPadding": 51}},
      "shape": {"field": "series", "type": "nominal", "scale": {"domain": ["CdS₁ₛ", "CdTe⁺"], "range": ["square", "circle"]}, "legend": {"orient": "none", "legendX": 230, "legendY": 187.5, "title": null, "rowPadding": 51}}
    }},
   {"data": {"name": "c_fit"}, "transform": [{"filter": "datum.fit === 'S'"}],
    "mark": {"type": "line", "color": "#111111", "strokeWidth": 2, "interpolate": "monotone", "clip": true},
    "encoding": {
      "x": {"field": "t", "type": "quantitative", "scale": {"domain": [-0.25, 3.0], "nice": false, "zero": false}, "axis": {"orient": "bottom", "values": [-0.2,-0.1,0,0.1,0.2,0.3,0.4,0.5,0.6,0.7,0.8,0.9,1,1.1,1.2,1.3,1.4,1.5,1.6,1.7,1.8,1.9,2,2.1,2.2,2.3,2.4,2.5,2.6,2.7,2.8,2.9,3], "tickSize": -3.5, "labels": false, "title": null}},
      "y": {"field": "v", "type": "quantitative", "scale": {"domain": [-0.108, 1.104], "nice": false, "zero": false}, "axis": {"orient": "left", "values": [-0.1,-0.05,0,0.05,0.1,0.15,0.2,0.25,0.3,0.35,0.4,0.45,0.5,0.55,0.6,0.65,0.7,0.75,0.8,0.85,0.9,0.95,1,1.05,1.1], "tickSize": -3.5, "labels": false, "title": null}}
    }},
   {"data": {"name": "c_pts"}, "transform": [{"filter": "datum.series === 'CdTe⁺'"}],
    "mark": {"type": "point", "filled": true, "size": 95, "opacity": 1, "clip": true},
    "encoding": {
      "x": {"field": "t", "type": "quantitative", "scale": {"domain": [-0.25, 3.0], "nice": false, "zero": false}, "axis": {"orient": "top", "values": [0,0.5,1,1.5,2,2.5,3], "tickSize": -6, "labels": false, "title": null}},
      "y": {"field": "v", "type": "quantitative", "scale": {"domain": [-0.108, 1.104], "nice": false, "zero": false}, "axis": {"orient": "right", "values": [0,0.2,0.4,0.6,0.8,1.0], "tickSize": -6, "labels": false, "title": null}},
      "color": {"field": "series", "type": "nominal", "scale": {"domain": ["CdS₁ₛ", "CdTe⁺"], "range": ["#3A55A6", "#E8232A"]}, "legend": {"orient": "none", "legendX": 230, "legendY": 187.5, "title": null, "rowPadding": 51}},
      "shape": {"field": "series", "type": "nominal", "scale": {"domain": ["CdS₁ₛ", "CdTe⁺"], "range": ["square", "circle"]}, "legend": {"orient": "none", "legendX": 230, "legendY": 187.5, "title": null, "rowPadding": 51}}
    }},
   {"data": {"name": "c_fit"}, "transform": [{"filter": "datum.fit === 'T'"}],
    "mark": {"type": "line", "color": "#E8232A", "strokeWidth": 1.8, "interpolate": "monotone", "clip": true},
    "encoding": {
      "x": {"field": "t", "type": "quantitative", "scale": {"domain": [-0.25, 3.0], "nice": false, "zero": false}, "axis": {"orient": "top", "values": [-0.2,-0.1,0,0.1,0.2,0.3,0.4,0.5,0.6,0.7,0.8,0.9,1,1.1,1.2,1.3,1.4,1.5,1.6,1.7,1.8,1.9,2,2.1,2.2,2.3,2.4,2.5,2.6,2.7,2.8,2.9,3], "tickSize": -3.5, "labels": false, "title": null}},
      "y": {"field": "v", "type": "quantitative", "scale": {"domain": [-0.108, 1.104], "nice": false, "zero": false}, "axis": {"orient": "right", "values": [-0.1,-0.05,0,0.05,0.1,0.15,0.2,0.25,0.3,0.35,0.4,0.45,0.5,0.55,0.6,0.65,0.7,0.75,0.8,0.85,0.9,0.95,1,1.05,1.1], "tickSize": -3.5, "labels": false, "title": null}}
    }}
  ]},
 {"width": 412, "height": 302, "resolve": {"axis": {"x": "independent", "y": "independent"}},
  "layer": [
   {"data": {"name": "d_pts"}, "transform": [{"filter": "datum.series === 'CdS₁ₛ'"}],
    "mark": {"type": "point", "filled": true, "size": 70, "opacity": 1, "clip": true},
    "encoding": {
      "x": {"field": "t", "type": "quantitative", "scale": {"domain": [-0.25, 3.0], "nice": false, "zero": false}, "axis": {"orient": "bottom", "values": [0,0.5,1,1.5,2,2.5,3], "format": ".1f", "tickSize": -6, "labelFontSize": 17, "labelPadding": 14, "title": ["Delay time (ps)", "(d)"], "titleFontSize": 20, "titleLineHeight": 24, "titlePadding": 2}},
      "y": {"field": "v", "type": "quantitative", "scale": {"domain": [-0.108, 1.104], "nice": false, "zero": false}, "axis": {"orient": "left", "values": [0,0.2,0.4,0.6,0.8,1.0], "format": ".1f", "tickSize": -6, "labelFontSize": 17, "labelPadding": 14, "title": "−ΔODₙₒᵣₘ (a.u.)", "titleFontSize": 19, "titlePadding": 5}},
      "color": {"field": "series", "type": "nominal", "scale": {"domain": ["CdS₁ₛ", "CdTe⁺"], "range": ["#3A55A6", "#E8232A"]}, "legend": {"orient": "none", "legendX": 226.5, "legendY": 194.5, "title": null, "rowPadding": 49}},
      "shape": {"field": "series", "type": "nominal", "scale": {"domain": ["CdS₁ₛ", "CdTe⁺"], "range": ["square", "circle"]}, "legend": {"orient": "none", "legendX": 226.5, "legendY": 194.5, "title": null, "rowPadding": 49}}
    }},
   {"data": {"name": "d_fit"}, "transform": [{"filter": "datum.fit === 'S'"}],
    "mark": {"type": "line", "color": "#111111", "strokeWidth": 2, "interpolate": "monotone", "clip": true},
    "encoding": {
      "x": {"field": "t", "type": "quantitative", "scale": {"domain": [-0.25, 3.0], "nice": false, "zero": false}, "axis": {"orient": "bottom", "values": [-0.2,-0.1,0,0.1,0.2,0.3,0.4,0.5,0.6,0.7,0.8,0.9,1,1.1,1.2,1.3,1.4,1.5,1.6,1.7,1.8,1.9,2,2.1,2.2,2.3,2.4,2.5,2.6,2.7,2.8,2.9,3], "tickSize": -3.5, "labels": false, "title": null}},
      "y": {"field": "v", "type": "quantitative", "scale": {"domain": [-0.108, 1.104], "nice": false, "zero": false}, "axis": {"orient": "left", "values": [-0.1,-0.05,0,0.05,0.1,0.15,0.2,0.25,0.3,0.35,0.4,0.45,0.5,0.55,0.6,0.65,0.7,0.75,0.8,0.85,0.9,0.95,1,1.05,1.1], "tickSize": -3.5, "labels": false, "title": null}}
    }},
   {"data": {"name": "d_pts"}, "transform": [{"filter": "datum.series === 'CdTe⁺'"}],
    "mark": {"type": "point", "filled": true, "size": 100, "opacity": 1, "clip": true},
    "encoding": {
      "x": {"field": "t", "type": "quantitative", "scale": {"domain": [-0.25, 3.0], "nice": false, "zero": false}, "axis": {"orient": "top", "values": [0,0.5,1,1.5,2,2.5,3], "tickSize": -6, "labels": false, "title": null}},
      "y": {"field": "v", "type": "quantitative", "scale": {"domain": [-0.108, 1.104], "nice": false, "zero": false}, "axis": {"orient": "right", "values": [0,0.2,0.4,0.6,0.8,1.0], "tickSize": -6, "labels": false, "title": null}},
      "color": {"field": "series", "type": "nominal", "scale": {"domain": ["CdS₁ₛ", "CdTe⁺"], "range": ["#3A55A6", "#E8232A"]}, "legend": {"orient": "none", "legendX": 226.5, "legendY": 194.5, "title": null, "rowPadding": 49}},
      "shape": {"field": "series", "type": "nominal", "scale": {"domain": ["CdS₁ₛ", "CdTe⁺"], "range": ["square", "circle"]}, "legend": {"orient": "none", "legendX": 226.5, "legendY": 194.5, "title": null, "rowPadding": 49}}
    }},
   {"data": {"name": "d_fit"}, "transform": [{"filter": "datum.fit === 'T'"}],
    "mark": {"type": "line", "color": "#E8232A", "strokeWidth": 1.8, "interpolate": "monotone", "clip": true},
    "encoding": {
      "x": {"field": "t", "type": "quantitative", "scale": {"domain": [-0.25, 3.0], "nice": false, "zero": false}, "axis": {"orient": "top", "values": [-0.2,-0.1,0,0.1,0.2,0.3,0.4,0.5,0.6,0.7,0.8,0.9,1,1.1,1.2,1.3,1.4,1.5,1.6,1.7,1.8,1.9,2,2.1,2.2,2.3,2.4,2.5,2.6,2.7,2.8,2.9,3], "tickSize": -3.5, "labels": false, "title": null}},
      "y": {"field": "v", "type": "quantitative", "scale": {"domain": [-0.108, 1.104], "nice": false, "zero": false}, "axis": {"orient": "right", "values": [-0.1,-0.05,0,0.05,0.1,0.15,0.2,0.25,0.3,0.35,0.4,0.45,0.5,0.55,0.6,0.65,0.7,0.75,0.8,0.85,0.9,0.95,1,1.05,1.1], "tickSize": -3.5, "labels": false, "title": null}}
    }}
  ]}
]
}
